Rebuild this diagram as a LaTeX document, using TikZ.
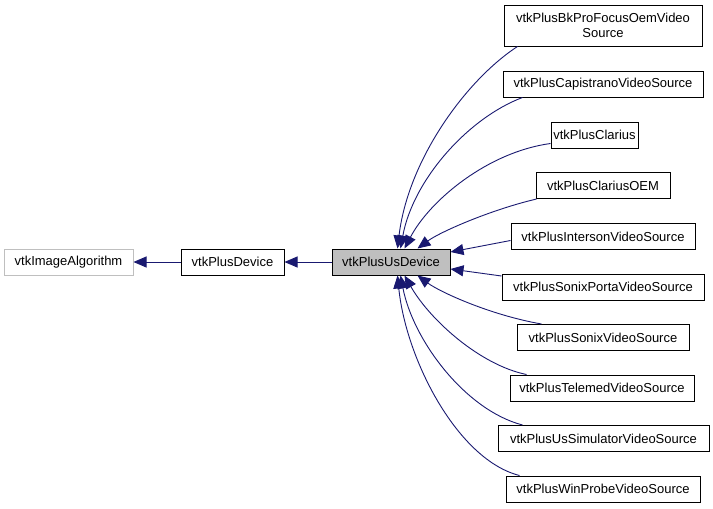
\documentclass[tikz,border=0pt]{standalone}
\usepackage{fontspec}
\setmainfont{Liberation Sans}
\usetikzlibrary{arrows.meta}
\definecolor{edgecol}{HTML}{191970}
\definecolor{grayfill}{HTML}{BFBFBF}
\tikzset{
  cls/.style={draw=black, line width=1pt, fill=white, inner sep=0pt, minimum height=26pt, align=center, font=\fontsize{13}{15}\selectfont},
  ext/.style={cls, draw=grayfill},
  cur/.style={cls, fill=grayfill},
  edge/.style={draw=edgecol, line width=0.9pt, -{Triangle[length=13pt,width=11pt]}},
}
\begin{document}
\begin{tikzpicture}[x=1pt,y=-1pt]
\useasboundingbox (0,0) rectangle (713,509);
\node[ext, minimum width=129pt] (ia) at (68.5,262) {vtkImageAlgorithm};
\node[cls, minimum width=103pt] (pd) at (232.5,262) {vtkPlusDevice};
\node[cur, minimum width=118pt] (us) at (391,262) {vtkPlusUsDevice};

\node[cls, minimum width=198pt, minimum height=41pt] (bk) at (603,25.5) {vtkPlusBkProFocusOemVideo\\Source};
\node[cls, minimum width=200pt] (cap) at (603,84) {vtkPlusCapistranoVideoSource};
\node[cls, minimum width=87pt] (cl) at (594.5,135) {vtkPlusClarius};
\node[cls, minimum width=134pt] (oem) at (603,185.5) {vtkPlusClariusOEM};
\node[cls, minimum width=184pt] (int) at (603,236.5) {vtkPlusIntersonVideoSource};
\node[cls, minimum width=202pt] (sp) at (603,287) {vtkPlusSonixPortaVideoSource};
\node[cls, minimum width=172pt] (sx) at (603,337.5) {vtkPlusSonixVideoSource};
\node[cls, minimum width=184pt] (tel) at (602,388) {vtkPlusTelemedVideoSource};
\node[cls, minimum width=211pt] (sim) at (603.5,438.5) {vtkPlusUsSimulatorVideoSource};
\node[cls, minimum width=194pt] (wp) at (603,489) {vtkPlusWinProbeVideoSource};

\draw[edge] (pd) -- (ia);
\draw[edge] (us) -- (pd);

\draw[edge] ([xshift=14pt]bk.south west) .. controls (466,80) and (408,160) .. ([xshift=66pt]us.north west);
\draw[edge] ([xshift=20pt]cap.south west) .. controls (468,118) and (413,180) .. ([xshift=69pt]us.north west);
\draw[edge] ([yshift=5pt]cl.south west) .. controls (488,152) and (430,200) .. ([xshift=73pt]us.north west);
\draw[edge] ([xshift=1pt]oem.south west) .. controls (490,210) and (440,232) .. ([xshift=86pt]us.north west);
\draw[edge] ([yshift=-4pt]int.west) -- ([yshift=10pt]us.east);
\draw[edge] ([yshift=11pt]sp.west) -- ([yshift=-7pt]us.east);
\draw[edge] ([xshift=25pt]sx.north west) .. controls (490,315) and (440,292) .. ([xshift=86pt]us.south west);
\draw[edge] ([xshift=17pt]tel.north west) .. controls (480,365) and (430,320) .. ([xshift=73pt]us.south west);
\draw[edge] ([xshift=25pt]sim.north west) .. controls (465,410) and (413,340) .. ([xshift=69pt]us.south west);
\draw[edge] ([xshift=14pt]wp.north west) .. controls (458,460) and (406,360) .. ([xshift=66pt]us.south west);
\end{tikzpicture}
\end{document}
